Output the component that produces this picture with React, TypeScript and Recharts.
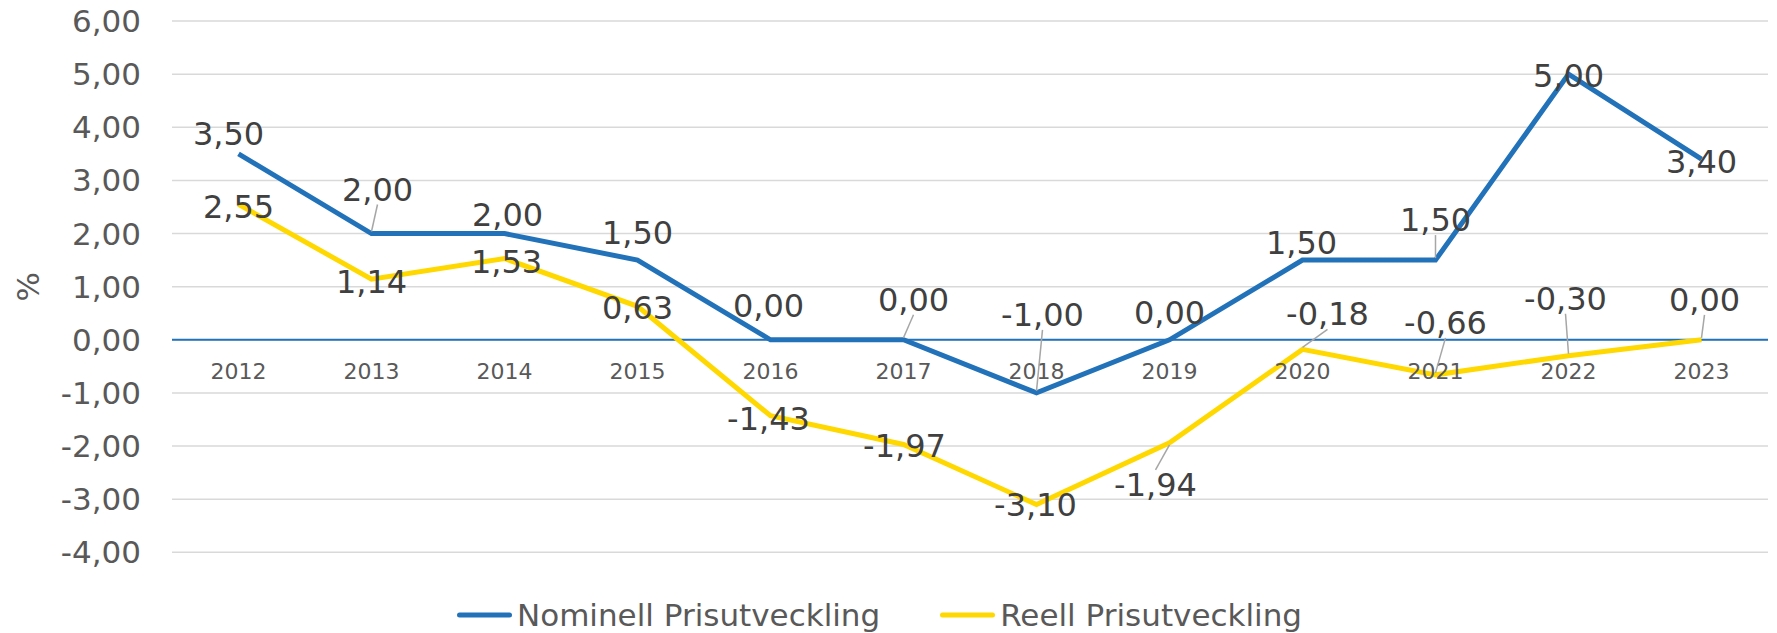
import { LineChart, Line, XAxis, YAxis, CartesianGrid, ReferenceLine, Legend, LabelList } from 'recharts';

const years = ['2012', '2013', '2014', '2015', '2016', '2017', '2018', '2019', '2020', '2021', '2022', '2023'];
const nominell = [3.5, 2.0, 2.0, 1.5, 0.0, 0.0, -1.0, 0.0, 1.5, 1.5, 5.0, 3.4];
const reell = [2.55, 1.14, 1.53, 0.63, -1.43, -1.97, -3.1, -1.94, -0.18, -0.66, -0.3, 0.0];
const yTicks = [-4, -3, -2, -1, 0, 1, 2, 3, 4, 5, 6];
// the category axis crosses the value axis here
const axisCross = 0;

const NOM_NAME = 'Nominell Prisutveckling';
const REAL_NAME = 'Reell Prisutveckling';
const BLUE = '#2272BA';
const YELLOW = '#FFD800';
const FONT = '"DejaVu Sans", sans-serif';

// data label placement: [dx, dy, leader line]
const nomLabelPos: [number, number, boolean][] = [
  [-10, -20, false], [6, -44, true], [3, -19, false], [0, -27, false],
  [-2, -34, false], [10, -40, true], [6, -78, true], [0, -27, false],
  [-1, -17, false], [0, -40, true], [0, 2, false], [0, 3, false],
];
const realLabelPos: [number, number, boolean][] = [
  [0, 3, false], [0, 3, false], [2, 4, false], [0, 2, false],
  [-2, 3, false], [1, 2, false], [-1, 1, false], [-14, 42, true],
  [25, -35, true], [10, -52, true], [-3, -57, true], [3, -40, true],
];

const data = years.map((year, i) => ({
  year,
  nom: nominell[i],
  real: reell[i],
  cross: axisCross,
}));

const fmt = (v: number) => Number(v).toFixed(2).replace('.', ',').replace('-0,00', '0,00');

function makeLabel(pos: [number, number, boolean][]) {
  return (props: any) => {
    const { x, y, value, index } = props;
    const [dx, dy, leader] = pos[index];
    const lx = x + dx;
    const ly = y + dy;
    const sign = y > ly ? 1 : -1;
    return (
      <g>
        {leader && (
          <line x1={lx} y1={ly + sign * 15} x2={x} y2={y - sign * 2} stroke="#A6A6A6" strokeWidth={1.5} />
        )}
        <text x={lx} y={ly} textAnchor="middle" dominantBaseline="central" fontFamily={FONT} fontSize={32} fill="#404040">
          {fmt(value)}
        </text>
      </g>
    );
  };
}

const yearLabel = (props: any) => {
  const { x, y, value } = props;
  return (
    <text x={x} y={y + 32} textAnchor="middle" dominantBaseline="central" fontFamily={FONT} fontSize={22} fill="#595959">
      {value}
    </text>
  );
};

const legendContent = () => (
  <div style={{ display: 'flex', alignItems: 'center', height: 36, paddingLeft: 457, fontFamily: FONT, fontSize: 31, color: '#595959', lineHeight: '36px' }}>
    {[
      { name: NOM_NAME, color: BLUE },
      { name: REAL_NAME, color: YELLOW },
    ].map((item) => (
      <div key={item.name} style={{ display: 'flex', alignItems: 'center', marginRight: 60 }}>
        <svg width={55} height={10} style={{ marginRight: 5 }}>
          <line x1={2.5} y1={5} x2={52.5} y2={5} stroke={item.color} strokeWidth={5} strokeLinecap="round" />
        </svg>
        <span>{item.name}</span>
      </div>
    ))}
  </div>
);

export default function App() {
  return (
    <div style={{ position: 'absolute', left: 0, top: 0, width: 1777, height: 633, background: '#fff' }}>
      <LineChart width={1777} height={633} data={data} margin={{ top: 21, right: 9, left: 0, bottom: 44.7 }}>
        <CartesianGrid horizontal vertical={false} stroke="#D9D9D9" strokeWidth={1.5} />
        <XAxis dataKey="year" hide padding={{ left: 66.5, right: 66.5 }} />
        <YAxis
          width={172}
          domain={[-4, 6]}
          ticks={yTicks}
          tickFormatter={fmt}
          tickLine={false}
          axisLine={false}
          tickSize={0}
          tickMargin={31}
          tick={{ fontFamily: FONT, fontSize: 31, fill: '#595959' }}
          label={(p: any) => {
            const vb = p.viewBox;
            const cx = vb.x + 28;
            const cy = vb.y + vb.height / 2;
            return (
              <text x={cx} y={cy} transform={`rotate(-90 ${cx} ${cy})`} textAnchor="middle" dominantBaseline="central" fontFamily={FONT} fontSize={31} fill="#595959">
                %
              </text>
            );
          }}
        />
        <ReferenceLine y={axisCross} stroke={BLUE} strokeWidth={2} />
        <Line dataKey="cross" stroke="none" dot={false} activeDot={false} legendType="none" isAnimationActive={false}>
          <LabelList dataKey="year" content={yearLabel} />
        </Line>
        <Line dataKey="nom" name={NOM_NAME} stroke={BLUE} strokeWidth={5} dot={false} isAnimationActive={false} strokeLinejoin="miter">
          <LabelList dataKey="nom" content={makeLabel(nomLabelPos)} />
        </Line>
        <Line dataKey="real" name={REAL_NAME} stroke={YELLOW} strokeWidth={5} dot={false} isAnimationActive={false} strokeLinejoin="miter">
          <LabelList dataKey="real" content={makeLabel(realLabelPos)} />
        </Line>
        <Legend verticalAlign="bottom" content={legendContent} wrapperStyle={{ bottom: 0, left: 0, width: 1777, height: 36 }} />
      </LineChart>
    </div>
  );
}
